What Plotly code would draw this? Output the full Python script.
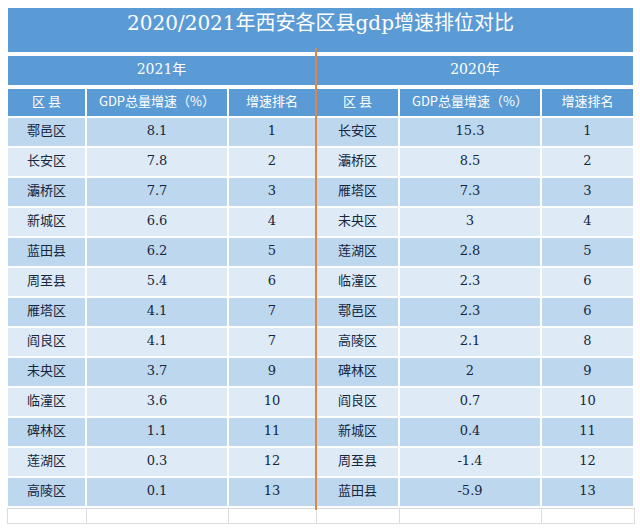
import plotly.graph_objects as go

# ── data ──────────────────────────────────────────────────────────────
TITLE = "2020/2021年西安各区县gdp增速排位对比"
YEARS = ["2021年", "2020年"]
HEADERS = ["区 县", "GDP总量增速（%）", "增速排名"]

districts_2021 = ["鄠邑区", "长安区", "灞桥区", "新城区", "蓝田县", "周至县", "雁塔区",
                  "阎良区", "未央区", "临潼区", "碑林区", "莲湖区", "高陵区"]
growth_2021 = ["8.1", "7.8", "7.7", "6.6", "6.2", "5.4", "4.1", "4.1", "3.7", "3.6", "1.1", "0.3", "0.1"]
rank_2021 = [1, 2, 3, 4, 5, 6, 7, 7, 9, 10, 11, 12, 13]

districts_2020 = ["长安区", "灞桥区", "雁塔区", "未央区", "莲湖区", "临潼区", "鄠邑区",
                  "高陵区", "碑林区", "阎良区", "新城区", "周至县", "蓝田县"]
growth_2020 = ["15.3", "8.5", "7.3", "3", "2.8", "2.3", "2.3", "2.1", "2", "0.7", "0.4", "-1.4", "-5.9"]
rank_2020 = [1, 2, 3, 4, 5, 6, 6, 8, 9, 10, 11, 12, 13]

# ── style ─────────────────────────────────────────────────────────────
W, H = 640, 530
BLUE = "#5b9bd5"
ROW_DARK = "#bdd7ee"
ROW_LIGHT = "#deebf7"
TEXT_DARK = "#15263e"
ORANGE = "#e0854a"
FONT = "DejaVu Serif, Noto Sans CJK SC, sans-serif"
CJK = "Noto Sans CJK SC, sans-serif"

X0, X1 = 7, 634
COL_W = [79, 142, 88, 83, 142, 93]


def ydom(top_px, bottom_px):
    return [1 - bottom_px / H, 1 - top_px / H]


xdom = [X0 / W, X1 / W]
white_line = dict(color="white", width=2)

fig = go.Figure()

# title row
fig.add_trace(go.Table(
    domain=dict(x=xdom, y=ydom(7, 53)),
    header=dict(values=[TITLE], fill_color=BLUE, line=white_line, height=46,
                font=dict(family=FONT, size=20, color="white"), align="center"),
    cells=dict(values=[[]]),
))

# year row
fig.add_trace(go.Table(
    domain=dict(x=xdom, y=ydom(55, 87)),
    columnwidth=[sum(COL_W[:3]), sum(COL_W[3:])],
    header=dict(values=YEARS, fill_color=BLUE, line=white_line, height=31,
                font=dict(family=FONT, size=14, color="white"), align="center"),
    cells=dict(values=[[], []]),
))

# main table
n = len(districts_2021)
fills = [ROW_DARK if i % 2 == 0 else ROW_LIGHT for i in range(n)]
fig.add_trace(go.Table(
    domain=dict(x=xdom, y=ydom(88, H)),
    columnwidth=COL_W,
    header=dict(values=HEADERS + HEADERS, fill_color=BLUE, line=white_line, height=29,
                font=dict(family=CJK, size=13, color="white"), align="center"),
    cells=dict(values=[districts_2021, growth_2021, rank_2021,
                       districts_2020, growth_2020, rank_2020],
               fill_color=[fills] * 6, line=white_line, height=30,
               font=dict(family=FONT, size=13, color=TEXT_DARK), align="center"),
))

# trailing blank row
fig.add_trace(go.Table(
    domain=dict(x=xdom, y=ydom(508, H)),
    columnwidth=COL_W,
    header=dict(values=[""] * 6, fill_color="white", line=dict(color="#dcdcdc", width=1),
                height=15),
    cells=dict(values=[[]] * 6),
))

# orange divider between the two years
x_div = (X0 + sum(COL_W[:3])) / W
fig.add_shape(type="line", xref="paper", yref="paper",
              x0=x_div, x1=x_div, y0=1 - 510 / H, y1=1 - 48 / H,
              line=dict(color=ORANGE, width=2))

fig.update_layout(
    width=W, height=H,
    margin=dict(l=0, r=0, t=0, b=0),
    paper_bgcolor="white",
    font=dict(family=CJK),
)
fig.write_html("out.html", config={"displayModeBar": False},
               post_script="document.body.style.margin='0';")
